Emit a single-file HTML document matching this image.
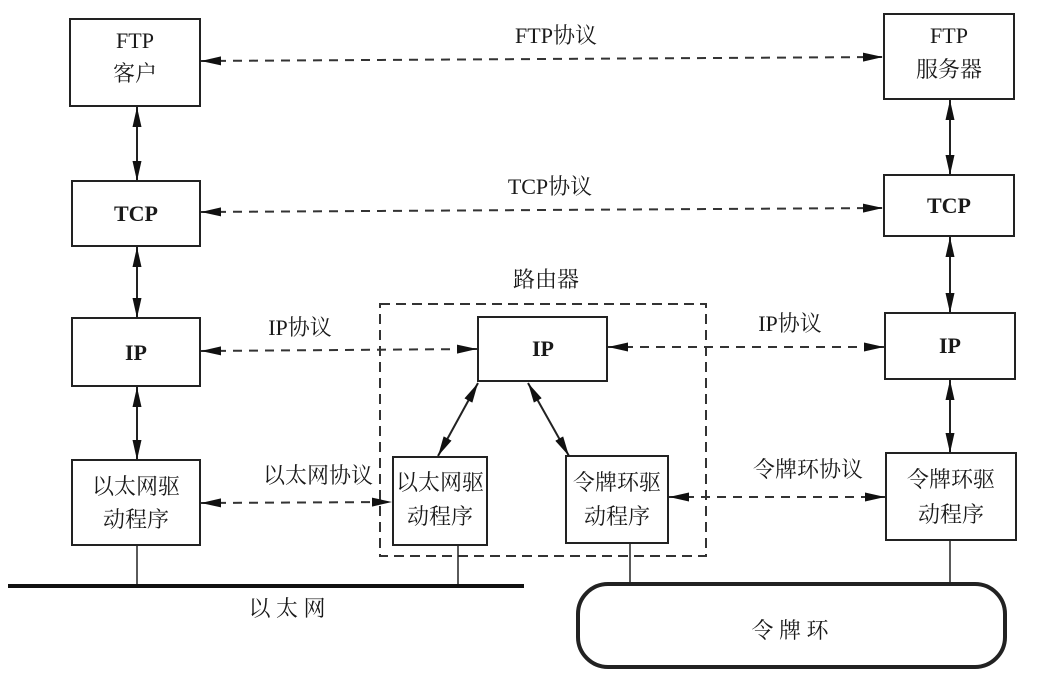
<!DOCTYPE html>
<html><head><meta charset="utf-8"><style>
html,body{margin:0;padding:0;background:#fff;}
svg text{font-family:"Liberation Serif","Noto Serif CJK SC","Noto Sans CJK SC",serif;font-size:22px;fill:#1a1a1a;text-anchor:middle;}
</style></head><body>
<svg width="1053" height="670" viewBox="0 0 1053 670" xmlns="http://www.w3.org/2000/svg">
<defs>
<marker id="b" viewBox="0 0 20 10" refX="20" refY="5" markerWidth="20" markerHeight="10" orient="auto-start-reverse" markerUnits="userSpaceOnUse"><path d="M0,0.5 L20,5 L0,9.5 z" fill="#111"/></marker>
</defs>
<g fill="none" stroke="#222" stroke-width="2">
<rect x="70" y="19" width="130" height="87"/>
<rect x="72" y="181" width="128" height="65"/>
<rect x="72" y="318" width="128" height="68"/>
<rect x="72" y="460" width="128" height="85"/>
<rect x="884" y="14" width="130" height="85"/>
<rect x="884" y="175" width="130" height="61"/>
<rect x="885" y="313" width="130" height="66"/>
<rect x="886" y="453" width="130" height="87"/>
<rect x="478" y="317" width="129" height="64"/>
<rect x="393" y="457" width="94" height="88"/>
<rect x="566" y="456" width="102" height="87"/>
<rect x="380" y="304" width="326" height="252" stroke-dasharray="10,6" stroke="#333"/>
<rect x="578" y="584" width="427" height="83" rx="30" stroke-width="4"/>
</g>
<g stroke="#222" stroke-width="1.5">
<line x1="137" y1="545" x2="137" y2="585"/>
<line x1="458" y1="545" x2="458" y2="585"/>
<line x1="630" y1="543" x2="630" y2="584"/>
<line x1="950" y1="540" x2="950" y2="584"/>
</g>
<line x1="8" y1="586" x2="524" y2="586" stroke="#111" stroke-width="4"/>
<g stroke="#222" stroke-width="2" marker-start="url(#b)" marker-end="url(#b)">
<line x1="137" y1="107" x2="137" y2="181"/>
<line x1="137" y1="247" x2="137" y2="318"/>
<line x1="137" y1="387" x2="137" y2="460"/>
<line x1="950" y1="100" x2="950" y2="175"/>
<line x1="950" y1="237" x2="950" y2="313"/>
<line x1="950" y1="380" x2="950" y2="453"/>
<line x1="478" y1="383" x2="438" y2="456"/>
<line x1="528" y1="383" x2="569" y2="456"/>
</g>
<g stroke="#333" stroke-width="2" stroke-dasharray="9,7" marker-start="url(#b)" marker-end="url(#b)" fill="none">
<line x1="201" y1="61" x2="883" y2="57"/>
<line x1="201" y1="212" x2="883" y2="208"/>
<line x1="201" y1="351" x2="477" y2="349"/>
<line x1="608" y1="347" x2="884" y2="347"/>
<line x1="201" y1="503" x2="392" y2="502"/>
<line x1="669" y1="497" x2="885" y2="497"/>
</g>
<text x="135" y="48">FTP</text><text x="135" y="81">客户</text>
<text x="136" y="221" font-weight="bold">TCP</text>
<text x="136" y="360" font-weight="bold">IP</text>
<text x="136" y="494">以太网驱</text><text x="136" y="527">动程序</text>
<text x="949" y="43">FTP</text><text x="949" y="77">服务器</text>
<text x="949" y="213" font-weight="bold">TCP</text>
<text x="950" y="353" font-weight="bold">IP</text>
<text x="951" y="487">令牌环驱</text><text x="951" y="522">动程序</text>
<text x="543" y="356" font-weight="bold">IP</text>
<text x="440" y="490">以太网驱</text><text x="440" y="524">动程序</text>
<text x="617" y="490">令牌环驱</text><text x="617" y="524">动程序</text>
<text x="556" y="43">FTP协议</text>
<text x="550" y="194">TCP协议</text>
<text x="546" y="287">路由器</text>
<text x="300" y="335">IP协议</text>
<text x="790" y="331">IP协议</text>
<text x="318" y="483">以太网协议</text>
<text x="808" y="477">令牌环协议</text>
<text x="287" y="616">以 太 网</text>
<text x="790" y="638">令 牌 环</text>
</svg>
</body></html>
